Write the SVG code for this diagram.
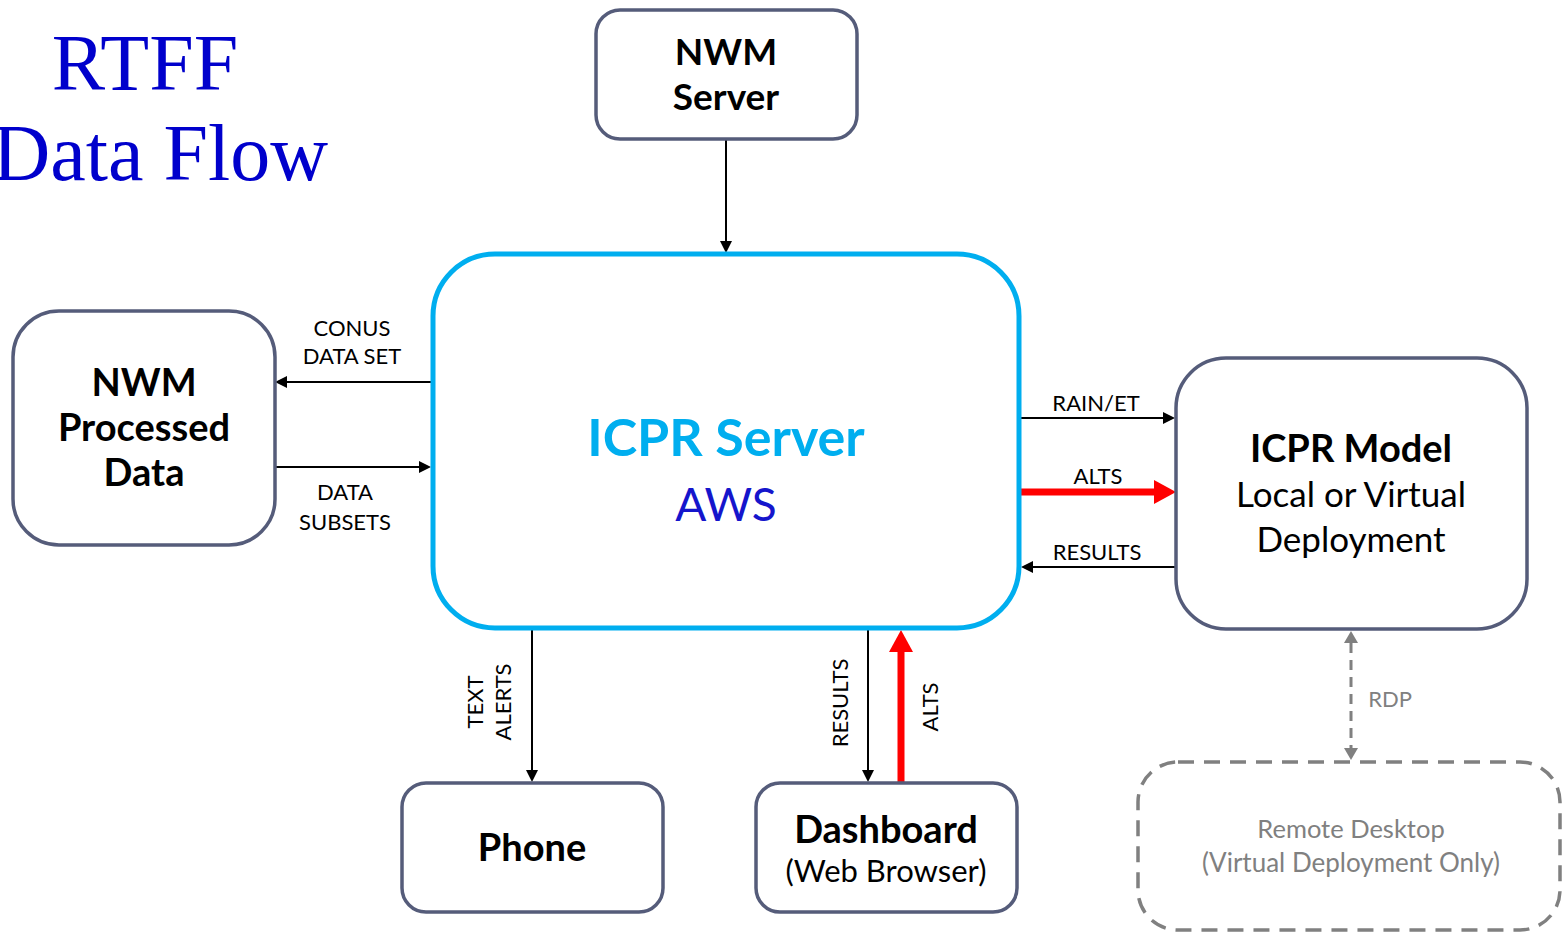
<svg xmlns="http://www.w3.org/2000/svg" width="1562" height="934" viewBox="0 0 1562 934">
<defs>
<style>
.box{fill:#fff;stroke:#555c7a;stroke-width:3.5}
.hub{fill:#fff;stroke:#00aeef;stroke-width:5}
.b{font-family:Lato,"Open Sans","DejaVu Sans",sans-serif;font-weight:bold;fill:#000;text-anchor:middle}
.r{font-family:Lato,"Open Sans","DejaVu Sans",sans-serif;fill:#000;text-anchor:middle}
.lbl{font-family:Lato,"Open Sans","DejaVu Sans",sans-serif;font-size:22px;fill:#000;text-anchor:middle}
.ln{stroke:#000;stroke-width:2;fill:none}
.red{stroke:#ff0000;stroke-width:7;fill:none}
.gray{stroke:#808080;stroke-width:3;fill:none;stroke-dasharray:10 7}
.title{font-family:"Liberation Serif","Times New Roman",serif;font-size:80px;fill:#0000cc}
</style>
<marker id="ah" markerUnits="userSpaceOnUse" viewBox="0 0 12 12" refX="0" refY="6" markerWidth="12" markerHeight="12" orient="auto"><path d="M0,0 L12,6 L0,12 z" fill="#000"/></marker>
<marker id="rh" markerUnits="userSpaceOnUse" viewBox="0 0 22 24" refX="0" refY="12" markerWidth="22" markerHeight="24" orient="auto"><path d="M0,0 L22,12 L0,24 z" fill="#ff0000"/></marker>
<marker id="gh" markerUnits="userSpaceOnUse" viewBox="0 0 12 14" refX="0" refY="7" markerWidth="12" markerHeight="14" orient="auto-start-reverse"><path d="M0,0 L12,7 L0,14 z" fill="#808080"/></marker>
</defs>
<rect width="1562" height="934" fill="#fff"/>
<g id="title">
<text class="title" x="145" y="90" text-anchor="middle">RTFF</text>
<text class="title" x="328" y="180" text-anchor="end">Data Flow</text>
</g>
<g id="connectors">
<line class="ln" x1="726" y1="139" x2="726" y2="241" marker-end="url(#ah)"/>
<line class="ln" x1="433" y1="382" x2="287" y2="382" marker-end="url(#ah)"/>
<line class="ln" x1="276" y1="467" x2="419" y2="467" marker-end="url(#ah)"/>
<line class="ln" x1="1019" y1="418" x2="1163" y2="418" marker-end="url(#ah)"/>
<line class="red" x1="1019" y1="492" x2="1154" y2="492" marker-end="url(#rh)"/>
<line class="ln" x1="1176" y1="567" x2="1033" y2="567" marker-end="url(#ah)"/>
<line class="ln" x1="532" y1="628" x2="532" y2="770" marker-end="url(#ah)"/>
<line class="ln" x1="868" y1="628" x2="868" y2="770" marker-end="url(#ah)"/>
<line class="red" x1="901" y1="783" x2="901" y2="652" marker-end="url(#rh)"/>
<line class="gray" x1="1351" y1="643" x2="1351" y2="748" marker-start="url(#gh)" marker-end="url(#gh)"/>
<text class="lbl" x="352" y="336">CONUS</text>
<text class="lbl" x="352" y="364">DATA SET</text>
<text class="lbl" x="345" y="500">DATA</text>
<text class="lbl" x="345" y="530">SUBSETS</text>
<text class="lbl" x="1096" y="411">RAIN/ET</text>
<text class="lbl" x="1098" y="484">ALTS</text>
<text class="lbl" x="1097" y="560">RESULTS</text>
<text class="lbl" transform="translate(483,702) rotate(-90)">TEXT</text>
<text class="lbl" transform="translate(511,702) rotate(-90)">ALERTS</text>
<text class="lbl" transform="translate(848,703) rotate(-90)">RESULTS</text>
<text class="lbl" transform="translate(938,707) rotate(-90)">ALTS</text>
<text class="lbl" x="1390" y="707" style="fill:#808080">RDP</text>
</g>
<g id="nwm-server">
<rect class="box" x="596" y="10" width="261" height="129" rx="24"/>
<text class="b" x="726" y="65" font-size="37">NWM</text>
<text class="b" x="726" y="110" font-size="37">Server</text>
</g>
<g id="icpr-server">
<rect class="hub" x="433" y="254" width="586" height="374" rx="62"/>
<text class="b" x="726" y="456" font-size="52" style="fill:#00aeef">ICPR Server</text>
<text class="r" x="726" y="521" font-size="46" style="fill:#1515cc">AWS</text>
</g>
<g id="nwm-processed">
<rect class="box" x="13" y="311" width="262" height="234" rx="46"/>
<text class="b" x="144" y="396" font-size="38">NWM</text>
<text class="b" x="144" y="441" font-size="38">Processed</text>
<text class="b" x="144" y="486" font-size="38">Data</text>
</g>
<g id="icpr-model">
<rect class="box" x="1176" y="358" width="351" height="271" rx="50"/>
<text class="b" x="1351" y="462" font-size="38">ICPR Model</text>
<text class="r" x="1351" y="507" font-size="35">Local or Virtual</text>
<text class="r" x="1351" y="552" font-size="35">Deployment</text>
</g>
<g id="phone">
<rect class="box" x="402" y="783" width="261" height="129" rx="24"/>
<text class="b" x="532" y="861" font-size="38">Phone</text>
</g>
<g id="dashboard">
<rect class="box" x="756" y="783" width="261" height="129" rx="24"/>
<text class="b" x="886" y="843" font-size="38">Dashboard</text>
<text class="r" x="886" y="882" font-size="31">(Web Browser)</text>
</g>
<g id="remote-desktop">
<rect x="1138" y="762" width="422" height="168" rx="40" fill="none" stroke="#808080" stroke-width="3.5" stroke-dasharray="16 10"/>
<text class="r" x="1351" y="838" font-size="25.5" style="fill:#808080">Remote Desktop</text>
<text class="r" x="1351" y="872" font-size="26" style="fill:#808080">(Virtual Deployment Only)</text>
</g>
</svg>
